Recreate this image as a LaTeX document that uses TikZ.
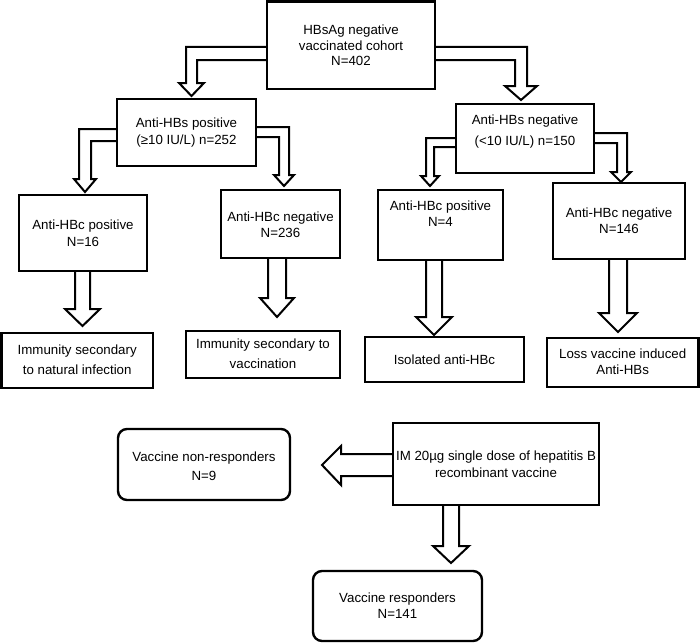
\documentclass[tikz,border=0pt]{standalone}
\usepackage{fontspec}
\setmainfont{Liberation Sans}
\begin{document}
\begin{tikzpicture}[x=1pt,y=-1pt,
  box/.style={draw, line width=2.4pt, inner sep=0pt},
  rbox/.style={box, rounded corners=9pt},
  txt/.style={align=center, inner sep=0pt, font=\fontsize{13.3}{#1}\selectfont},
  txt/.default=17,
  fat/.style={draw, line width=2pt, line join=miter}]
\useasboundingbox (0,0) rectangle (700,642);

% boxes
\node[box, minimum width=168pt, minimum height=87.5pt] (top) at (351,45.25) {};
\node[txt=15.5] (topt) at (351,45.5) {HBsAg negative\\vaccinated cohort\\N=402};

\node[box, minimum width=139pt, minimum height=67pt] (hbp) at (186.5,132.5) {};
\node[txt=17] (hbpt) at (186.5,132.5) {Anti-HBs positive\\(≥10 IU/L) n=252};

\node[box, minimum width=138pt, minimum height=69pt] (hbn) at (525,138.5) {};
\node[txt=21] (hbnt) at (525,131.5) {Anti-HBs negative\\(<10 IU/L) n=150};

\node[box, minimum width=128pt, minimum height=76pt] (cp1) at (83,233) {};
\node[txt=17] (cp1t) at (83,233.5) {Anti-HBc positive\\N=16};

\node[box, minimum width=119pt, minimum height=68pt] (cn1) at (280.5,224) {};
\node[txt=16] (cn1t) at (280.5,225) {Anti-HBc negative\\N=236};

\node[box, minimum width=125pt, minimum height=70pt] (cp2) at (440.5,225) {};
\node[txt=16] (cp2t) at (440.5,214) {Anti-HBc positive\\N=4};

\node[box, minimum width=132pt, minimum height=76pt] (cn2) at (619,221) {};
\node[txt=15.5] (cn2t) at (619,220.5) {Anti-HBc negative\\N=146};

\node[box, minimum width=151.7pt, minimum height=55pt] (im1) at (77.2,360.5) {};
\node[txt=20] (im1t) at (77.2,360) {Immunity secondary\\to natural infection};

\node[box, minimum width=154pt, minimum height=47pt] (im2) at (263,354.5) {};
\node[txt=20] (im2t) at (263,354) {Immunity secondary to\\vaccination};

\node[box, minimum width=159pt, minimum height=45pt] (iso) at (444.5,359.5) {};
\node[txt] (isot) at (444.5,360) {Isolated anti-HBc};

\node[box, minimum width=151.3pt, minimum height=49pt] (loss) at (622.7,362.5) {};
\node[txt=16] (losst) at (622.7,362) {Loss vaccine induced\\Anti-HBs};

\node[rbox, minimum width=172pt, minimum height=71pt] (nr) at (204,464.5) {};
\node[txt=19] (nrt) at (204,466.5) {Vaccine non-responders\\N=9};

\node[box, minimum width=206pt, minimum height=82pt] (im) at (496,464) {};
\node[txt=17] (imt) at (496,464.5) {IM 20µg single dose of hepatitis B\\recombinant vaccine};

\node[rbox, minimum width=169pt, minimum height=70pt] (resp) at (397.5,606) {};
\node[txt=16] (respt) at (397.5,606) {Vaccine responders\\N=141};

% fat arrows
\draw[fat] (267,47) -- (186,47) -- (186,83) -- (179,83) -- (191.5,96) -- (204,83) -- (197,83) -- (197,60) -- (267,60);
\draw[fat] (435,47) -- (527,47) -- (527,86) -- (537,86) -- (521,100) -- (505,86) -- (515,86) -- (515,60) -- (435,60);
\draw[fat] (117,129) -- (79,129) -- (79,179) -- (74,179) -- (85,192) -- (96,179) -- (91,179) -- (91,141) -- (117,141);
\draw[fat] (256,127) -- (289,127) -- (289,175) -- (294,175) -- (284,186) -- (274,175) -- (279,175) -- (279,137) -- (256,137);
\draw[fat] (456,138) -- (426,138) -- (426,176) -- (421,176) -- (430,186) -- (439,176) -- (434,176) -- (434,147) -- (456,147);
\draw[fat] (594,133) -- (627,133) -- (627,172) -- (631,172) -- (621,182) -- (611,172) -- (617,172) -- (617,143) -- (594,143);

\draw[fat] (75,271) -- (75,309) -- (65,309) -- (82.5,326) -- (100,309) -- (90,309) -- (90,271);
\draw[fat] (268,258) -- (268,298) -- (260,298) -- (277,317) -- (294,298) -- (286,298) -- (286,258);
\draw[fat] (426,260) -- (426,317) -- (416,317) -- (434,335) -- (452,317) -- (442,317) -- (442,260);
\draw[fat] (609,259) -- (609,313) -- (599,313) -- (618,332) -- (637,313) -- (627,313) -- (627,259);
\draw[fat] (393,454) -- (341,454) -- (341,446) -- (322,465) -- (341,485) -- (341,476) -- (393,476);
\draw[fat] (443,505) -- (443,546) -- (433,546) -- (451,563) -- (469,546) -- (459,546) -- (459,505);
\end{tikzpicture}
\end{document}
